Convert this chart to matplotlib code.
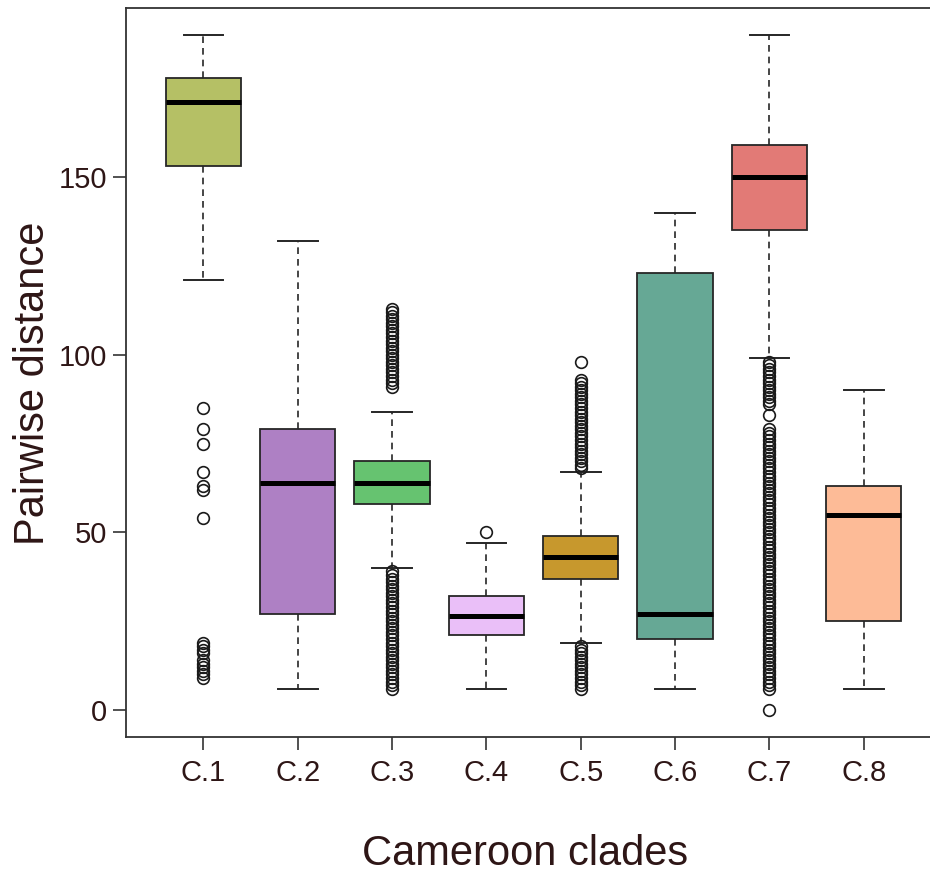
import matplotlib
matplotlib.use("Agg")
import matplotlib.pyplot as plt

clades = ["C.1", "C.2", "C.3", "C.4", "C.5", "C.6", "C.7", "C.8"]
q1 = [153, 27, 58, 21, 37, 20, 135, 25]
medians = [171, 64, 64, 26.5, 43, 27, 150, 55]
q3 = [178, 79, 70, 32, 49, 123, 159, 63]
whisker_low = [121, 6, 40, 6, 19, 6, 99, 6]
whisker_high = [190, 132, 84, 47, 67, 140, 190, 90]
colors = ["#b5c065", "#ae80c4", "#66c370", "#eabff8",
          "#c7982d", "#66a895", "#e27a76", "#fdbb97"]

outliers_c1 = [85, 79, 75, 67, 63, 62, 54, 19, 18, 17, 16, 14, 13, 12, 11, 10, 9]
outliers_c2 = []
outliers_c3 = [113, 112, 111, 110, 109, 108, 107, 106, 105, 104, 103, 102, 101, 100,
               99, 98, 97, 96, 95, 94, 93, 92, 91,
               39, 38, 37, 36, 35, 34, 33, 32, 31, 30, 29, 28, 27, 26, 25, 24, 23,
               22, 21, 20, 19, 18, 17, 16, 15, 14, 13, 12, 11, 10, 9, 8, 7, 6]
outliers_c4 = [50]
outliers_c5 = [98, 93, 92, 91, 90, 89, 88, 87, 86, 85, 84, 83, 82, 81, 80, 79, 78,
               77, 76, 75, 74, 73, 72, 71, 70, 69, 68,
               18, 17, 16, 15, 14, 13, 12, 11, 10, 9, 8, 7, 6]
outliers_c6 = []
outliers_c7 = [98, 97, 96, 95, 94, 93, 92, 91, 90, 89, 88, 87, 86, 83,
               79, 78, 77, 76, 75, 74, 73, 72, 71, 70, 69, 68, 67, 66, 65, 64, 63,
               62, 61, 60, 59, 58, 57, 56, 55, 54, 53, 52, 51, 50, 49, 48, 47, 46,
               45, 44, 43, 42, 41, 40, 39, 38, 37, 36, 35, 34, 33, 32, 31, 30, 29,
               28, 27, 26, 25, 24, 23, 22, 21, 20, 19, 18, 17, 16, 15, 14, 13, 12,
               11, 10, 9, 8, 7, 6, 0]
outliers_c8 = []
outliers = [outliers_c1, outliers_c2, outliers_c3, outliers_c4,
            outliers_c5, outliers_c6, outliers_c7, outliers_c8]

y_ticks = [0, 50, 100, 150]

text_color = "#2e1616"
plt.rcParams['font.family'] = ['Liberation Sans', 'DejaVu Sans']

fig = plt.figure(figsize=(9.3, 8.75), dpi=100)
ax = fig.add_axes([126 / 930, 1 - 737 / 875, (942 - 126) / 930, (737 - 8) / 875])

stats = []
for i, name in enumerate(clades):
    stats.append(dict(label=name, q1=q1[i], med=medians[i], q3=q3[i],
                      whislo=whisker_low[i], whishi=whisker_high[i],
                      fliers=outliers[i]))

positions = list(range(1, len(clades) + 1))
bp = ax.bxp(stats, positions=positions, widths=0.8, patch_artist=True,
            showfliers=True,
            boxprops=dict(edgecolor="#262626", linewidth=1.3),
            medianprops=dict(color="black", linewidth=3.6, solid_capstyle="butt"),
            whiskerprops=dict(color="#262626", linewidth=1.2, linestyle=(0, (4, 3))),
            capprops=dict(color="#262626", linewidth=1.4),
            capwidths=0.42,
            flierprops=dict(marker="o", markerfacecolor="none",
                            markeredgecolor="#1a1a1a", markersize=8.4,
                            markeredgewidth=1.2, linestyle="none"))
for patch, c in zip(bp["boxes"], colors):
    patch.set_facecolor(c)

ax.set_xlim(0.18, 8.83)
ax.set_ylim(-7.6, 197.6)
ax.set_yticks(y_ticks)
ax.set_yticklabels([str(t) for t in y_ticks])
ax.set_xticks(positions)
ax.set_xticklabels(clades)

for side in ["left", "bottom", "top", "right"]:
    ax.spines[side].set_color("#333333")
    ax.spines[side].set_linewidth(1.3)

ax.tick_params(axis="both", direction="out", length=9.5, width=1.2, color="#333333",
               labelsize=21, labelcolor=text_color, pad=4)
ax.tick_params(axis="x", pad=6)

ax.set_xlabel("Cameroon clades", fontsize=30, color=text_color, labelpad=34.5)
ax.set_ylabel("Pairwise distance", fontsize=30, color=text_color, labelpad=4)
ax.xaxis.label.set_x(0.489)
ax.yaxis.label.set_y(0.4856)

fig.savefig("out.png", dpi=100)
